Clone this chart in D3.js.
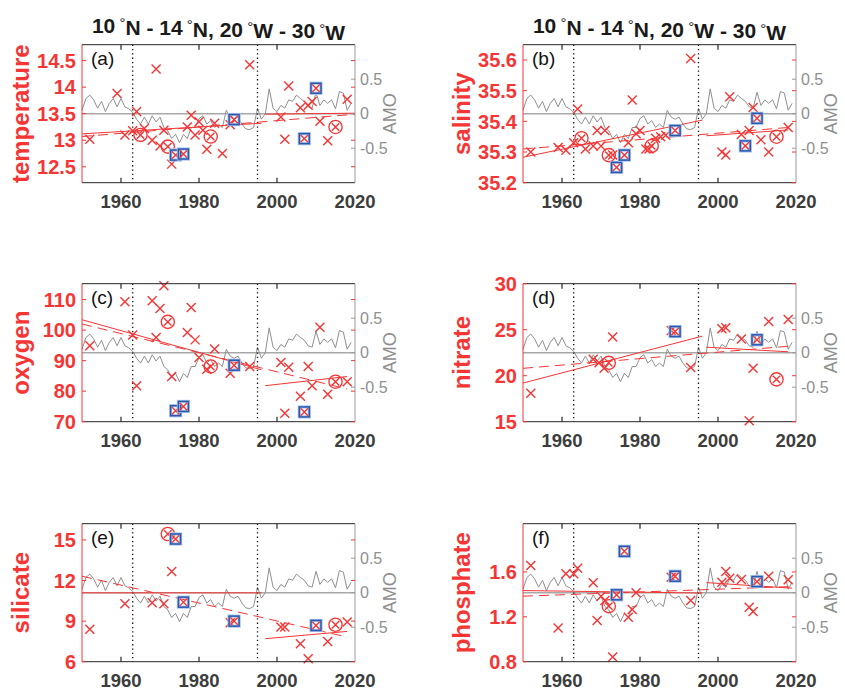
<!DOCTYPE html>
<html>
<head>
<meta charset="utf-8">
<script src="https://cdn.jsdelivr.net/npm/d3@7"></script>
<style>
  body { margin: 0; background: #fff; }
  text { font-family: "Liberation Sans", Arial, Helvetica, sans-serif; }
</style>
</head>
<body>
<div id="chart"></div>
<script>
const W = 845, H = 692;
const RED = "#f63535", GREY = "#8f8f8f", DARK = "#3d3d3d";

// --- AMO index, annual 1950-2019 ---
const amoYears = d3.range(1950, 2020);
const amo = [
  0.05, 0.22, 0.27, 0.20, 0.08, 0.18, 0.03, 0.15, 0.22, 0.10,
  0.22, 0.10, 0.07, 0.02, -0.08, -0.15, -0.05, -0.15, -0.03, -0.12,
  -0.05, -0.20, -0.25, -0.36, -0.30, -0.42, -0.30, -0.36, -0.20, -0.20,
  -0.07, -0.03, -0.15, -0.10, -0.20, -0.15, -0.20, 0.05, -0.05, -0.08,
  -0.05, -0.15, -0.22, -0.23, -0.20, 0.08, -0.08, 0.00, 0.36, 0.08,
  0.03, 0.12, 0.08, 0.20, 0.18, 0.27, 0.22, 0.18, 0.10, 0.08,
  0.31, 0.12, 0.20, 0.15, 0.20, 0.07, 0.32, 0.30, 0.05, 0.15
];
const amoTicks = [-0.5, 0, 0.5];

const xTicks = [1960, 1980, 2000, 2020];
const breakYears = [1963, 1995];
const circledYears = [1965, 1972, 1983, 2015];
const boxedYears = [1974, 1976, 1989, 2007, 2010];

// --- (a) temperature ---
const tempYear = [1952, 1959, 1961, 1963, 1964, 1965, 1966, 1968, 1969, 1970, 1971, 1972, 1973, 1974, 1976, 1977, 1978, 1979, 1980, 1981,
  1982, 1983, 1984, 1986, 1988, 1989, 1993, 2001, 2002, 2003, 2006, 2007, 2008, 2009, 2010, 2011, 2013, 2015, 2018];
const tempVal = [13.02, 13.88, 13.10, 13.18, 13.54, 13.10, 13.22, 13.00, 14.34, 12.89, 13.19, 12.88, 12.55, 12.72, 12.74, 13.25, 13.47, 13.10, 13.35, 13.19,
  12.83, 13.07, 13.32, 12.75, 13.29, 13.39, 14.42, 13.44, 13.02, 14.02, 13.61, 13.03, 13.66, 13.73, 13.98, 13.36, 12.99, 13.25, 13.77];
const tempTicks = [12.5, 13, 13.5, 14, 14.5];
const tempFit1 = [[1950, 13.12], [1996, 13.32]];
const tempFit2 = [[1997, 13.49], [2020, 13.51]];
const tempFitAll = [[1950, 13.07], [2020, 13.49]];

// --- (b) salinity ---
const salYear = [1952, 1959, 1961, 1963, 1964, 1965, 1966, 1968, 1969, 1970, 1971, 1972, 1973, 1974, 1976, 1977, 1978, 1979, 1980, 1981.5,
  1982.3, 1983, 1984, 1985.3, 1986.6, 1989, 1993, 2001, 2002, 2003, 2006, 2007, 2008, 2009, 2010, 2011, 2013, 2015, 2018];
const salVal = [35.30, 35.315, 35.306, 35.33, 35.44, 35.345, 35.31, 35.32, 35.37, 35.32, 35.37, 35.29, 35.29, 35.25, 35.29, 35.33, 35.47, 35.36, 35.37, 35.31,
  35.31, 35.32, 35.345, 35.35, 35.355, 35.37, 35.605, 35.30, 35.29, 35.48, 35.357, 35.32, 35.37, 35.445, 35.41, 35.34, 35.30, 35.35, 35.38];
const salTicks = [35.2, 35.3, 35.4, 35.5, 35.6];
const salFit1 = [[1950, 35.283], [1996, 35.404]];
const salFit2 = [[1997, 35.353], [2018, 35.372]];
const salFitAll = [[1950, 35.31], [2018, 35.38]];

// --- (c) oxygen ---
const oxyYear = [1952, 1961, 1963, 1964, 1968, 1969, 1970, 1971, 1972, 1973, 1974, 1976, 1977, 1978, 1979, 1980, 1982,
  1983, 1984, 1988, 1989, 1993, 2001, 2002, 2003, 2006, 2007, 2008, 2009, 2011, 2013, 2015, 2018];
const oxyVal = [94.9, 109.3, 98.4, 81.8, 109.6, 97.6, 107.1, 114.5, 102.7, 84.8, 73.6, 75.0, 99.2, 107.4, 96.8, 91.0, 87.2,
  88.1, 93.8, 85.9, 88.5, 88.1, 89.4, 72.8, 87.8, 78.3, 73.2, 88.1, 81.8, 100.9, 79.0, 83.1, 83.1];
const oxyTicks = [70, 80, 90, 100, 110];
const oxyFit1 = [[1950, 103.4], [1996, 87.0]];
const oxyFit2 = [[1997, 81.8], [2018, 84.8]];
const oxyFitAll = [[1950, 102.0], [2018, 80.7]];

// --- (d) nitrate ---
const nitYear = [1952, 1968, 1969.5, 1970.8, 1972, 1973, 1988, 1989, 1993, 2001, 2002, 2006, 2008, 2009, 2010, 2013, 2015, 2018];
const nitVal = [18.1, 21.8, 21.4, 20.8, 21.4, 24.2, 24.9, 24.8, 20.9, 25.1, 25.2, 24.0, 15.1, 20.8, 23.9, 25.9, 19.6, 26.1];
const nitTicks = [15, 20, 25, 30];
const nitFit1 = [[1950, 19.2], [1996, 24.3]];
const nitFit2 = [[1997, 23.1], [2018, 22.6]];
const nitFitAll = [[1950, 20.8], [2018, 23.2]];

// --- (e) silicate ---
const silYear = [1952, 1961, 1968, 1971, 1972, 1973, 1974, 1976, 1988, 1989, 2001, 2002, 2006, 2008, 2010, 2013, 2015, 2018];
const silVal = [8.39, 10.28, 10.35, 10.28, 15.44, 12.66, 15.07, 10.40, 8.88, 9.0, 8.56, 8.56, 7.33, 6.22, 8.68, 7.5, 8.73, 8.93];
const silTicks = [6, 9, 12, 15];
const silFit1 = [[1950, 11.09], [1996, 11.09]];
const silFit2 = [[1997, 7.7], [2018, 8.24]];
const silFitAll = [[1950, 12.32], [2018, 7.82]];

// --- (f) phosphate ---
const phoYear = [1952, 1959, 1961, 1963, 1964, 1968, 1969, 1970, 1971, 1972, 1973, 1974, 1976, 1977, 1978, 1979, 1988, 1989,
  1993, 2001, 2002, 2003, 2006, 2008, 2009, 2010, 2013, 2018];
const phoVal = [1.657, 1.10, 1.583, 1.583, 1.633, 1.503, 1.168, 1.384, 1.346, 1.295, 0.842, 1.396, 1.784, 1.197, 1.265, 1.414, 1.553, 1.562,
  1.346, 1.509, 1.603, 1.544, 1.532, 1.286, 1.248, 1.514, 1.562, 1.53];
const phoTicks = [0.8, 1.2, 1.6];
const phoFit1 = [[1950, 1.434], [1996, 1.412]];
const phoFit2 = [[1997, 1.505], [2019, 1.455]];
const phoFitAll = [[1950, 1.384], [2019, 1.47]];

const panels = [
  { tag: "(a)", name: "temperature", year: tempYear, val: tempVal, domain: [12.2, 14.8], ticks: tempTicks, fits: [tempFit1, tempFit2], fitAll: tempFitAll },
  { tag: "(b)", name: "salinity", year: salYear, val: salVal, domain: [35.2, 35.65], ticks: salTicks, fits: [salFit1, salFit2], fitAll: salFitAll },
  { tag: "(c)", name: "oxygen", year: oxyYear, val: oxyVal, domain: [70, 115.2], ticks: oxyTicks, fits: [oxyFit1, oxyFit2], fitAll: oxyFitAll },
  { tag: "(d)", name: "nitrate", year: nitYear, val: nitVal, domain: [15, 30], ticks: nitTicks, fits: [nitFit1, nitFit2], fitAll: nitFitAll },
  { tag: "(e)", name: "silicate", year: silYear, val: silVal, domain: [6, 16.2], ticks: silTicks, fits: [silFit1, silFit2], fitAll: silFitAll },
  { tag: "(f)", name: "phosphate", year: phoYear, val: phoVal, domain: [0.8, 2.03], ticks: phoTicks, fits: [phoFit1, phoFit2], fitAll: phoFitAll }
];

// --- layout ---
const colLeft = [82, 523], pw = 273;
const rowTop = [44.7, 283.7, 523.7], ph = 138;

const svg = d3.select("#chart").append("svg")
  .attr("width", W).attr("height", H)
  .attr("viewBox", `0 0 ${W} ${H}`);

// title pieces: number + raised degree + hemisphere letter
const titleParts = [["10", "N - "], ["14", "N, "], ["20", "W - "], ["30", "W"]];

panels.forEach((p, i) => {
  const col = i % 2, row = Math.floor(i / 2);
  const g = svg.append("g").attr("transform", `translate(${colLeft[col]},${rowTop[row]})`);

  const x = d3.scaleLinear().domain([1950, 2020]).range([0, pw]);
  const y = d3.scaleLinear().domain(p.domain).range([ph, 0]);
  const ya = d3.scaleLinear().domain([-1, 1]).range([ph, 0]);

  // AMO zero line and series
  g.append("line")
    .attr("x1", 0).attr("x2", pw).attr("y1", ya(0)).attr("y2", ya(0))
    .attr("stroke", "#a8a8a8").attr("stroke-width", 1.6);
  g.append("path")
    .datum(amoYears.map((yr, k) => [yr, amo[k]]))
    .attr("d", d3.line().x(d => x(d[0])).y(d => ya(d[1])))
    .attr("fill", "none").attr("stroke", GREY).attr("stroke-width", 1);

  // period breaks
  g.selectAll(".brk").data(breakYears).join("line")
    .attr("x1", d => x(d)).attr("x2", d => x(d)).attr("y1", 0).attr("y2", ph)
    .attr("stroke", "#111").attr("stroke-width", 1.3).attr("stroke-dasharray", "1.3,3");

  // trend lines
  const fline = d3.line().x(d => x(d[0])).y(d => y(d[1]));
  p.fits.forEach(f => g.append("path").attr("d", fline(f))
    .attr("fill", "none").attr("stroke", RED).attr("stroke-width", 1));
  g.append("path").attr("d", fline(p.fitAll))
    .attr("fill", "none").attr("stroke", RED).attr("stroke-width", 1).attr("stroke-dasharray", "10,6");

  // markers
  const pts = p.year.map((yr, k) => ({
    yr, v: p.val[k],
    kind: circledYears.includes(yr) ? "o" : boxedYears.includes(yr) ? "s" : "x"
  }));
  const cross = s => `M${-s},${-s}L${s},${s}M${-s},${s}L${s},${-s}`;
  const mk = g.selectAll(".pt").data(pts).join("g")
    .attr("transform", d => `translate(${x(d.yr)},${y(d.v)})`);
  mk.filter(d => d.kind === "s").append("rect")
    .attr("x", -5).attr("y", -5).attr("width", 10).attr("height", 10)
    .attr("fill", "none").attr("stroke", "#a9c4ea").attr("stroke-width", 3.2);
  mk.filter(d => d.kind === "s").append("rect")
    .attr("x", -5).attr("y", -5).attr("width", 10).attr("height", 10)
    .attr("fill", "none").attr("stroke", "#2858b0").attr("stroke-width", 1.5);
  mk.filter(d => d.kind === "o").append("circle")
    .attr("r", 6.6).attr("fill", "none").attr("stroke", RED).attr("stroke-width", 1.35);
  mk.append("path")
    .attr("d", d => cross(d.kind === "x" ? 4.5 : 3.7))
    .attr("stroke", RED).attr("stroke-width", 1.4).attr("fill", "none");

  // box: top/bottom dark, left red, right grey
  g.append("line").attr("x1", 0).attr("x2", pw).attr("y1", 0).attr("y2", 0).attr("stroke", "#262626").attr("stroke-width", 1);
  g.append("line").attr("x1", 0).attr("x2", pw).attr("y1", ph).attr("y2", ph).attr("stroke", "#262626").attr("stroke-width", 1);
  g.append("line").attr("x1", 0).attr("x2", 0).attr("y1", 0).attr("y2", ph).attr("stroke", RED).attr("stroke-width", 1);
  g.append("line").attr("x1", pw).attr("x2", pw).attr("y1", 0).attr("y2", ph).attr("stroke", "#9a9a9a").attr("stroke-width", 1);

  // x ticks, inward on top and bottom
  const xt = xTicks.filter(t => t < 2020);
  g.selectAll(".xtb").data(xt).join("line")
    .attr("x1", d => x(d)).attr("x2", d => x(d)).attr("y1", ph).attr("y2", ph - 5)
    .attr("stroke", "#262626").attr("stroke-width", 1.2);
  g.selectAll(".xtt").data(xt).join("line")
    .attr("x1", d => x(d)).attr("x2", d => x(d)).attr("y1", 0).attr("y2", 5)
    .attr("stroke", "#262626").attr("stroke-width", 1.2);
  g.selectAll(".xl").data(xTicks).join("text")
    .attr("x", d => x(d)).attr("y", ph + 25)
    .attr("text-anchor", "middle").attr("font-size", 18.5).attr("font-weight", "bold")
    .attr("fill", DARK).text(d => d);

  // left axis ticks and labels (red)
  g.selectAll(".ytl").data(p.ticks).join("line")
    .attr("x1", 0).attr("x2", 4).attr("y1", d => y(d)).attr("y2", d => y(d))
    .attr("stroke", RED).attr("stroke-width", 1);
  g.selectAll(".ytr").data(p.ticks).join("line")
    .attr("x1", pw).attr("x2", pw - 4).attr("y1", d => y(d)).attr("y2", d => y(d))
    .attr("stroke", RED).attr("stroke-width", 1);
  g.selectAll(".yl").data(p.ticks).join("text")
    .attr("x", -6).attr("y", d => y(d)).attr("dy", "0.36em")
    .attr("text-anchor", "end").attr("font-size", 20).attr("font-weight", "bold")
    .attr("fill", RED).text(d => String(d));

  // right AMO axis (grey)
  g.selectAll(".at").data(amoTicks).join("line")
    .attr("x1", pw).attr("x2", pw - 4).attr("y1", d => ya(d)).attr("y2", d => ya(d))
    .attr("stroke", "#9a9a9a").attr("stroke-width", 1);
  g.selectAll(".al").data(amoTicks).join("text")
    .attr("x", pw + 5).attr("y", d => ya(d)).attr("dy", "0.36em")
    .attr("font-size", 16).attr("fill", GREY).text(d => String(d));
  g.append("text")
    .attr("transform", `translate(${pw + 41},${ph / 2}) rotate(-90)`)
    .attr("text-anchor", "middle").attr("font-size", 18).attr("fill", GREY).text("AMO");

  // y label
  g.append("text")
    .attr("transform", `translate(${-61},${ph / 2}) rotate(-90)`)
    .attr("dy", "0.35em")
    .attr("text-anchor", "middle").attr("font-size", 24).attr("font-weight", "bold")
    .attr("fill", RED).text(p.name);

  // panel tag
  g.append("text").attr("x", 9).attr("y", 20)
    .attr("font-size", 19).attr("fill", "#111").text(p.tag);

  if (row === 0) {
    const t = g.append("text").attr("x", pw / 2).attr("y", -12)
      .attr("text-anchor", "middle").attr("font-size", 21).attr("font-weight", "bold")
      .attr("fill", "#1a1a1a");
    titleParts.forEach(([num, rest]) => {
      t.append("tspan").text(num + "\u2009");
      t.append("tspan").attr("dy", "-0.32em").attr("font-size", 15).attr("font-weight", "normal").text("°");
      t.append("tspan").attr("dy", "0.32em").text(rest);
    });
  }
});
</script>
</body>
</html>
